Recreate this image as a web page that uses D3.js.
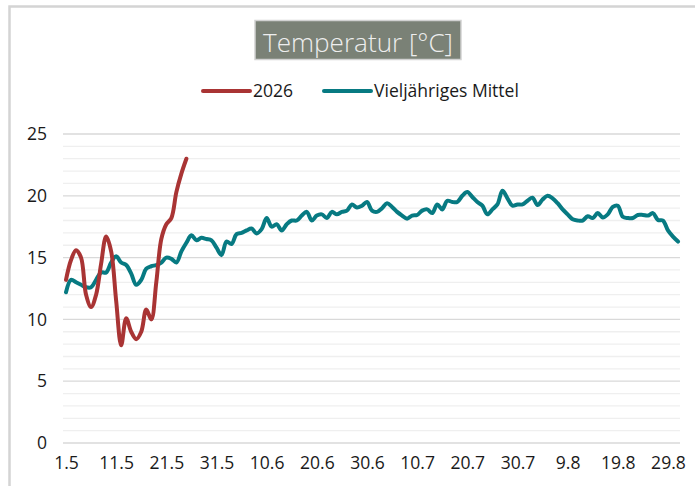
<!DOCTYPE html>
<html lang="de">
	<head>
		<meta charset="utf-8">
		<title>Temperatur</title>
		<script type="text/javascript" src="https://d3js.org/d3.v7.min.js"></script>
		<style type="text/css">
			body { margin: 0; background: #fff; }
			text { font-family: "Open Sans", Lato, sans-serif; }
		</style>
	</head>
	<body>

		<div id="chart"></div>

		<script type="text/javascript">

    // daily mean temperature 2026, from 1.5.
    var values2026 = [13.2, 14.8, 15.6, 15.0, 12.0, 11.0, 12.0, 14.5, 16.7, 15.5,
                      11.5, 7.9, 10.1, 9.0, 8.4, 9.0, 10.8, 10.0, 13.0, 16.5,
                      17.7, 18.2, 20.3, 21.8, 23.0];

    // long-term mean, 1.5. to 31.8.
    var valuesMittel = [12.2, 13.2, 13.0, 12.8, 12.6, 12.6, 13.2, 13.8, 13.8, 14.6,
                        15.1, 14.6, 14.4, 13.7, 12.8, 13.2, 14.1, 14.3, 14.4, 14.6,
                        15.0, 14.9, 14.6, 15.5, 16.2, 16.8, 16.4, 16.6, 16.5, 16.4,
                        15.8, 15.2, 16.3, 16.1, 16.9, 17.0, 17.2, 17.35, 16.95, 17.3,
                        18.2, 17.5, 17.7, 17.2, 17.7, 18.0, 18.0, 18.4, 18.7, 18.0,
                        18.4, 18.5, 18.2, 18.7, 18.5, 18.7, 18.8, 19.3, 19.05, 19.2,
                        19.5, 18.8, 18.7, 19.0, 19.4, 19.1, 18.7, 18.4, 18.15, 18.4,
                        18.45, 18.8, 18.9, 18.6, 19.3, 18.9, 19.6, 19.5, 19.5, 20.0,
                        20.3, 19.9, 19.5, 19.2, 18.5, 18.9, 19.3, 20.4, 19.8, 19.2,
                        19.3, 19.3, 19.6, 19.85, 19.25, 19.7, 20.0, 19.8, 19.4, 18.9,
                        18.5, 18.1, 18.0, 18.0, 18.35, 18.2, 18.6, 18.25, 18.5, 19.1,
                        19.2, 18.3, 18.2, 18.2, 18.45, 18.45, 18.4, 18.6, 18.05, 18.0,
                        17.2, 16.7, 16.3];

    var tickLabels = ["1.5", "11.5", "21.5", "31.5", "10.6", "20.6", "30.6",
                      "10.7", "20.7", "30.7", "9.8", "19.8", "29.8"];
    var yTicks = [0, 5, 10, 15, 20, 25];

    var seriesNames = ["2026", "Vieljähriges Mittel"];
    var seriesColors = ["#a93434", "#077a82"];

    // day labels (d.m) for every category
    var days = d3.timeDay.range(new Date(2026, 4, 1), new Date(2026, 8, 1))
        .map(function(d){ return d.getDate() + "." + (d.getMonth() + 1); });

    var w = 695;
    var h = 486;

    var svg = d3.select("#chart")
        .append("svg")
        .attr("width", w)
        .attr("height", h);

    // size the label font so the legend text is as wide as in the original
    var probe = svg.append("text").style("font-size", "15px").text("Vieljähriges Mittel");
    var fs = 15 * 145 / probe.node().getComputedTextLength();
    probe.remove();

    // outer chart frame (runs past the window)
    svg.append("rect")
        .attr("x", 9.5)
        .attr("y", 6.5)
        .attr("width", 800)
        .attr("height", 600)
        .style("fill", "none")
        .style("stroke", "#d4d4d4")
        .style("stroke-width", 2.5);

    var xScale = d3.scalePoint()
        .domain(days)
        .range([66, 678]);

    var yScale = d3.scaleLinear()
        .domain([0, 25])
        .range([443, 134]);

    // minor grid
    svg.append("g")
        .selectAll("line")
        .data(d3.range(0, 26).filter(function(v){ return v % 5 !== 0; }))
        .enter()
        .append("line")
        .attr("x1", 63).attr("x2", 680)
        .attr("y1", function(d){ return yScale(d); })
        .attr("y2", function(d){ return yScale(d); })
        .style("stroke", "#efefef")
        .style("stroke-width", 1.3);

    // major grid
    svg.append("g")
        .selectAll("line")
        .data(yTicks)
        .enter()
        .append("line")
        .attr("x1", 63).attr("x2", 680)
        .attr("y1", function(d){ return yScale(d); })
        .attr("y2", function(d){ return yScale(d); })
        .style("stroke", "#d9d9d9")
        .style("stroke-width", 1.3);

    var yAxis = d3.axisLeft()
        .scale(yScale)
        .tickValues(yTicks)
        .tickSize(0)
        .tickPadding(0);

    var gy = svg.append("g")
        .attr("transform", "translate(47,0)")
        .call(yAxis);
    gy.select(".domain").remove();
    gy.selectAll("text")
        .style("font-size", fs + "px")
        .style("fill", "#1a1a1a");

    var xAxis = d3.axisBottom()
        .scale(xScale)
        .tickValues(tickLabels)
        .tickSize(0)
        .tickPadding(0);

    var gx = svg.append("g")
        .attr("transform", "translate(0,457)")
        .call(xAxis);
    gx.select(".domain").remove();
    gx.selectAll("text")
        .style("font-size", fs + "px")
        .style("fill", "#1a1a1a");

    var line = d3.line()
        .x(function(d, i){ return xScale(days[i]); })
        .y(function(d){ return yScale(d); })
        .curve(d3.curveCatmullRom);

    svg.append("path")
        .datum(valuesMittel)
        .attr("d", line)
        .style("fill", "none")
        .style("stroke", seriesColors[1])
        .style("stroke-width", 4)
        .style("stroke-linejoin", "round")
        .style("stroke-linecap", "round");

    svg.append("path")
        .datum(values2026)
        .attr("d", line)
        .style("fill", "none")
        .style("stroke", seriesColors[0])
        .style("stroke-width", 4)
        .style("stroke-linejoin", "round")
        .style("stroke-linecap", "round");

    // title box
    svg.append("rect")
        .attr("x", 255)
        .attr("y", 20.5)
        .attr("width", 206)
        .attr("height", 39)
        .style("fill", "#7a8176")
        .style("stroke", "#d2d2d2")
        .style("stroke-width", 1.5);

    var title = svg.append("text")
        .attr("x", 358)
        .attr("y", 52)
        .attr("text-anchor", "middle")
        .style("font-size", "27px")
        .style("font-weight", 300)
        .style("fill", "#eeeeee")
        .text("Temperatur [°C]");
    var tw = title.node().getComputedTextLength();
    title.style("font-size", (27 * 190 / tw) + "px");

    // legend
    var legendX = [203, 324];
    var legend = svg.append("g");
    seriesNames.forEach(function(name, i){
        legend.append("line")
            .attr("x1", legendX[i]).attr("x2", legendX[i] + 47)
            .attr("y1", 91).attr("y2", 91)
            .style("stroke", seriesColors[i])
            .style("stroke-width", 4)
            .style("stroke-linecap", "round");
        legend.append("text")
            .attr("x", legendX[i] + 50)
            .attr("y", 96.5)
            .style("font-size", fs + "px")
            .style("fill", "#1a1a1a")
            .text(name);
    });

		</script>
	</body>
</html>
